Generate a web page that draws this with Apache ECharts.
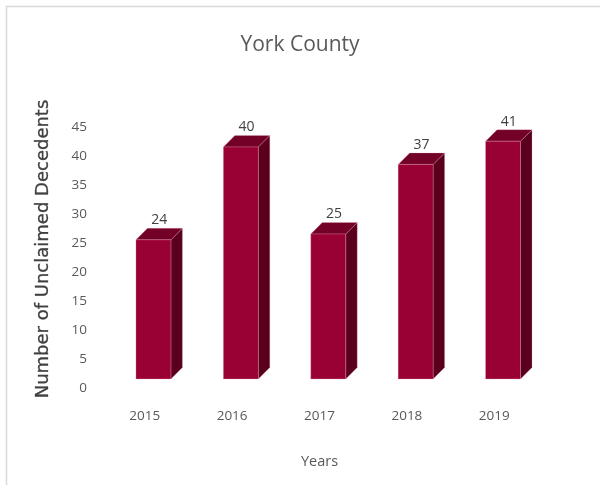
<!DOCTYPE html>
<html>
<head>
<meta charset="utf-8">
<title>York County</title>
<script src="https://cdn.jsdelivr.net/npm/echarts@6/dist/echarts.min.js"></script>
<style>
  html, body { margin: 0; padding: 0; background: #ffffff; }
  #chart { width: 600px; height: 485px; }
</style>
</head>
<body>
<div id="chart"></div>
<script>
// Unclaimed decedents per year, York County
const years = ['2015', '2016', '2017', '2018', '2019'];
const decedents = [24, 40, 25, 37, 41];
const valueMax = 45;
const valueStep = 5;

const chart = echarts.init(document.getElementById('chart'), null, { renderer: 'canvas' });

const FRONT = '#990033';
const TOP = '#730026';
const SIDE = '#5a001d';
const EDGE = 'rgba(235,170,190,0.55)';

// Draws each value as an extruded column: front face, top face and right side
function renderColumn(params, api) {
  const v = api.value(1);
  const base = api.coord([api.value(0), 0]);
  const top = api.coord([api.value(0), v]);
  const band = api.size([1, 0])[0];
  const w = band * 0.40;
  const depth = 11.5;
  const shiftX = band * 0.10;
  const shiftY = -9;
  const x0 = base[0] + shiftX - w / 2;
  const x1 = x0 + w;
  const yb = base[1] + shiftY;
  const yt = top[1] + shiftY;
  return {
    type: 'group',
    children: [
      {
        type: 'polygon',
        shape: { points: [[x1, yt], [x1 + depth, yt - depth], [x1 + depth, yb - depth], [x1, yb]] },
        style: { fill: SIDE, stroke: EDGE, lineWidth: 0.5 }
      },
      {
        type: 'polygon',
        shape: { points: [[x0, yt], [x1, yt], [x1 + depth, yt - depth], [x0 + depth, yt - depth]] },
        style: { fill: TOP, stroke: EDGE, lineWidth: 0.5 }
      },
      {
        type: 'rect',
        shape: { x: x0, y: yt, width: w, height: yb - yt },
        style: { fill: FRONT, stroke: EDGE, lineWidth: 0.5 }
      },
      {
        type: 'text',
        style: {
          text: String(v),
          x: x0 + w / 2 + depth / 2,
          y: yt - depth - 1,
          align: 'center',
          verticalAlign: 'bottom',
          fill: '#404040',
          font: '14px "Open Sans"'
        }
      }
    ]
  };
}

chart.setOption({
  animation: false,
  backgroundColor: '#ffffff',
  title: {
    text: 'York County',
    left: 'center',
    top: 30,
    textStyle: { fontFamily: 'Open Sans', fontSize: 21, fontWeight: 'normal', color: '#595959' }
  },
  grid: { left: 101, right: 62, top: 127, bottom: 97 },
  xAxis: {
    type: 'category',
    data: years,
    boundaryGap: true,
    axisLine: { show: false },
    axisTick: { show: false },
    axisLabel: { margin: 21, color: '#595959', fontFamily: 'Open Sans', fontSize: 13.5 },
    name: 'Years',
    nameLocation: 'middle',
    nameGap: 66,
    nameTextStyle: { color: '#595959', fontFamily: 'Open Sans', fontSize: 14.5 }
  },
  yAxis: {
    type: 'value',
    min: 0,
    max: valueMax,
    interval: valueStep,
    axisLine: { show: false },
    axisTick: { show: false },
    splitLine: { show: false },
    axisLabel: { margin: 14, color: '#595959', fontFamily: 'Open Sans', fontSize: 13.5 }
  },
  graphic: [
    {
      type: 'rect',
      silent: true,
      shape: { x: 6.5, y: 6.5, width: 700, height: 600 },
      style: { fill: 'none', stroke: '#d9d9d9', lineWidth: 1.5 }
    },
    {
      type: 'text',
      silent: true,
      x: 43.5,
      y: 249,
      rotation: Math.PI / 2,
      style: {
        text: 'Number of Unclaimed Decedents',
        align: 'center',
        verticalAlign: 'middle',
        fill: '#404040',
        stroke: '#404040',
        lineWidth: 0.3,
        fontFamily: 'DejaVu Sans',
        fontWeight: 'normal',
        fontSize: 18
      }
    }
  ],
  series: [
    {
      type: 'custom',
      renderItem: renderColumn,
      encode: { x: 0, y: 1 },
      data: years.map((y, i) => [y, decedents[i]])
    }
  ]
});
</script>
</body>
</html>
